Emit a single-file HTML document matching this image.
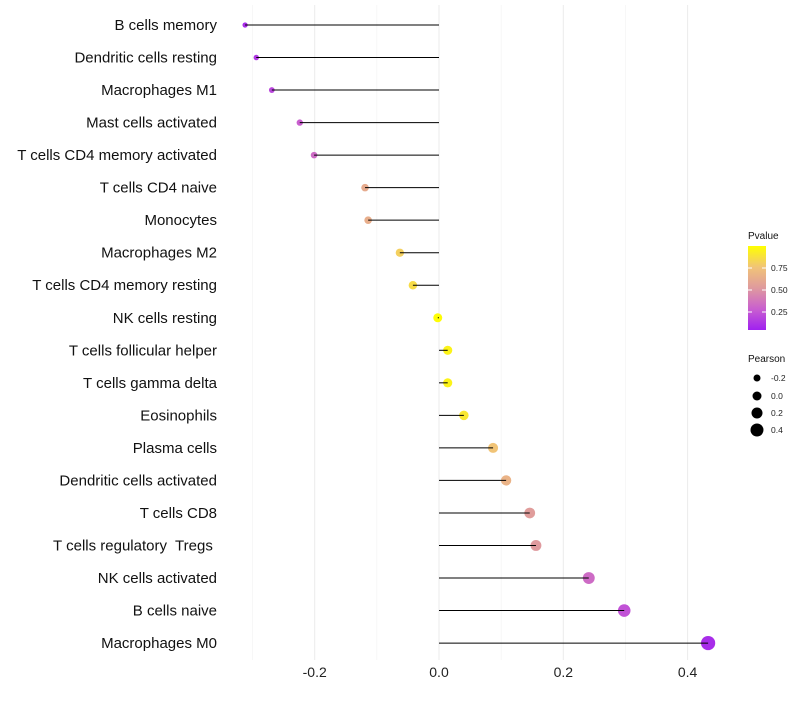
<!DOCTYPE html>
<html><head><meta charset="utf-8"><style>
body{margin:0;background:#fff;font-family:"Liberation Sans",sans-serif}
text{white-space:pre}
</style></head><body>
<svg id="c" width="800" height="700" xmlns="http://www.w3.org/2000/svg">
<defs><linearGradient id="g" x1="0" y1="1" x2="0" y2="0">
<stop offset="0" stop-color="#a020f0"/><stop offset="0.25" stop-color="#c95fcf"/><stop offset="0.5" stop-color="#df9a9e"/><stop offset="0.75" stop-color="#f1c477"/><stop offset="1" stop-color="#ffff00"/></linearGradient></defs>
</svg>
<script>
const categories=["B cells memory","Dendritic cells resting","Macrophages M1","Mast cells activated","T cells CD4 memory activated","T cells CD4 naive","Monocytes","Macrophages M2","T cells CD4 memory resting","NK cells resting","T cells follicular helper","T cells gamma delta","Eosinophils","Plasma cells","Dendritic cells activated","T cells CD8","T cells regulatory  Tregs ","NK cells activated","B cells naive","Macrophages M0"];
const pearson=[-0.312,-0.294,-0.269,-0.224,-0.201,-0.119,-0.114,-0.063,-0.042,-0.002,0.014,0.014,0.040,0.087,0.108,0.146,0.156,0.241,0.298,0.433];
const pvalue=[0.05,0.1,0.15,0.25,0.3,0.6,0.62,0.8,0.85,0.99,0.95,0.95,0.9,0.75,0.65,0.52,0.5,0.3,0.2,0.05];
const xTicks=[-0.2,0,0.2,0.4];
const xTickLabels=["-0.2","0.0","0.2","0.4"];
const minorTicks=[-0.3,-0.1,0.1,0.3];
const NS="http://www.w3.org/2000/svg",svg=document.getElementById('c');
const x=v=>439+v*621.5;
const y=i=>25+i*32.53;
const r=v=>4.5+v*6;
const stops=[[0,[160,32,240]],[0.25,[201,95,207]],[0.5,[223,154,158]],[0.75,[241,196,119]],[1,[255,255,0]]];
function col(p){for(let k=1;k<stops.length;k++){if(p<=stops[k][0]){const a=stops[k-1],b=stops[k],t=(p-a[0])/(b[0]-a[0]);return 'rgb('+a[1].map((c,j)=>Math.round(c+(b[1][j]-c)*t)).join(',')+')';}}return 'rgb(255,255,0)';}
function mk(t,a,p){const e=document.createElementNS(NS,t);for(const k in a)e.setAttribute(k,a[k]);(p||svg).appendChild(e);return e;}
minorTicks.forEach(v=>{const l=mk('line',{x1:x(v),x2:x(v),y1:5,y2:660,stroke:'#f2f2f2','stroke-width':0.6});

});
xTicks.forEach((v,i)=>{const l=mk('line',{x1:x(v),x2:x(v),y1:5,y2:660,stroke:'#ebebeb','stroke-width':1});


const t=mk('text',{x:x(v),y:677,'text-anchor':'middle','font-size':14,fill:'#222'});t.textContent=xTickLabels[i];

});
categories.forEach((c,i)=>{
const t=mk('text',{x:217,y:y(i)+5,'text-anchor':'end','font-size':15,fill:'#111'});t.textContent=c;


const d=mk('circle',{cx:x(pearson[i]),cy:y(i),r:r(pearson[i]),fill:col(pvalue[i])});


const l=mk('line',{x1:x(0),x2:x(pearson[i]),y1:y(i),y2:y(i),stroke:'#000','stroke-width':1});


});
const lg=mk('g',{});
mk('text',{x:748,y:239,'font-size':10,fill:'#111'},lg).textContent='Pvalue';
mk('rect',{x:748,y:246,width:18,height:84,fill:'url(#g)'},lg);
[[0.75,268],[0.5,290],[0.25,312]].forEach(a=>{mk('text',{x:771,y:a[1]+3,'font-size':8.5,fill:'#222'},lg).textContent=a[0].toFixed(2);
mk('line',{x1:748,x2:752,y1:a[1],y2:a[1],stroke:'#fff'},lg);mk('line',{x1:762,x2:766,y1:a[1],y2:a[1],stroke:'#fff'},lg);});
mk('text',{x:748,y:362,'font-size':10,fill:'#111'},lg).textContent='Pearson';
[[-0.2,378,3.5],[0.0,396,4.5],[0.2,413,5.5],[0.4,430,6.5]].forEach(a=>{mk('circle',{cx:757,cy:a[1],r:a[2],fill:'#000'},lg);
mk('text',{x:771,y:a[1]+3,'font-size':8.5,fill:'#222'},lg).textContent=a[0].toFixed(1);});
</script>
</body></html>
